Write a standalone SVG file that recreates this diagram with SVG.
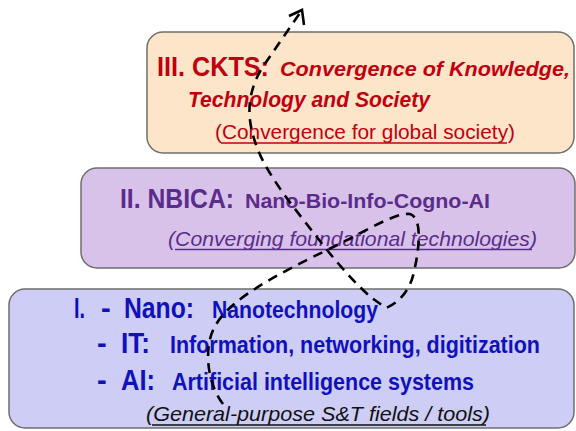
<svg xmlns="http://www.w3.org/2000/svg" width="576" height="431" viewBox="0 0 576 431">
<style>
.box{stroke:#6e6e6e;stroke-width:1.5}
text{font-family:"Liberation Sans",Arial,sans-serif}
.b{font-weight:bold}
.i{font-style:italic}
.red{fill:#C00010}
.pur{fill:#5A2D8C}
.blu{fill:#1010BC}
.ul{stroke-width:1.4}
.dash{fill:none;stroke:#000;stroke-width:2.6;stroke-dasharray:10 7}
</style>
<rect width="576" height="431" fill="#fff"/>
<g id="node-ckts">
<rect class="box" x="147" y="32" width="427" height="121" rx="16" fill="#FCE5C9"/>
<text class="b red" x="157" y="76" font-size="27" textLength="112" lengthAdjust="spacingAndGlyphs">III. CKTS:</text>
<text class="b i red" x="280" y="76" font-size="21" textLength="290" lengthAdjust="spacingAndGlyphs">Convergence of Knowledge,</text>
<text class="b i red" x="188" y="107" font-size="22" textLength="242" lengthAdjust="spacingAndGlyphs">Technology and Society</text>
<text class="red" x="215" y="139" font-size="21" textLength="300" lengthAdjust="spacingAndGlyphs">(Convergence for global society)</text>
<line class="ul" x1="221" y1="143" x2="507" y2="143" stroke="#C00010"/>
</g>
<g id="node-nbica">
<rect class="box" x="81" y="168" width="494" height="100" rx="16" fill="#D9C2EA"/>
<text class="b pur" x="120" y="208" font-size="27" textLength="114" lengthAdjust="spacingAndGlyphs">II. NBICA:</text>
<text class="b pur" x="245" y="208" font-size="21" textLength="245" lengthAdjust="spacingAndGlyphs">Nano-Bio-Info-Cogno-AI</text>
<text class="i pur" x="168" y="246" font-size="21" textLength="369" lengthAdjust="spacingAndGlyphs">(Converging foundational technologies)</text>
<line class="ul" x1="175" y1="249.5" x2="532" y2="249.5" stroke="#5A2D8C"/>
</g>
<g id="node-base">
<rect class="box" x="9" y="289" width="565" height="139" rx="16" fill="#CDCDF6"/>
<text class="b blu" x="74" y="318" font-size="29" textLength="11" lengthAdjust="spacingAndGlyphs">I.</text>
<text class="b blu" x="101" y="318" font-size="29">-</text>
<text class="b blu" x="124" y="318" font-size="29" textLength="70" lengthAdjust="spacingAndGlyphs">Nano:</text>
<text class="b blu" x="212" y="318" font-size="24" textLength="166" lengthAdjust="spacingAndGlyphs">Nanotechnology</text>
<text class="b blu" x="97" y="353" font-size="29">-</text>
<text class="b blu" x="121" y="353" font-size="29" textLength="29" lengthAdjust="spacingAndGlyphs">IT:</text>
<text class="b blu" x="170" y="353" font-size="24" textLength="370" lengthAdjust="spacingAndGlyphs">Information, networking, digitization</text>
<text class="b blu" x="97" y="390" font-size="29">-</text>
<text class="b blu" x="121" y="390" font-size="29" textLength="34" lengthAdjust="spacingAndGlyphs">AI:</text>
<text class="b blu" x="172" y="390" font-size="24" textLength="302" lengthAdjust="spacingAndGlyphs">Artificial intelligence systems</text>
<text class="i" x="146" y="421" font-size="21" fill="#111" textLength="344" lengthAdjust="spacingAndGlyphs">(General-purpose  S&amp;T fields / tools)</text>
<line class="ul" x1="152" y1="425" x2="486" y2="425" stroke="#111"/>
</g>
<g id="connectors">
<path class="dash" d="M223,404 C208,385 203,350 214,328 C226,305 255,285 327,250 C365,232 395,212 410,214 C422,218 420,245 414,272 C410,290 400,302 386,308 L372,298 C360,288 345,272 327,250 C300,215 270,180 258,150 C246,120 246,95 262,68 L302,10"/>
<polyline points="289,16 302,10 304,25" fill="none" stroke="#000" stroke-width="2.6" stroke-linejoin="miter"/>
</g>
</svg>
